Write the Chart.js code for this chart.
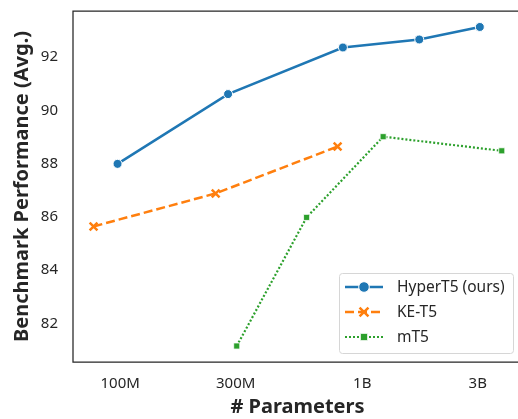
<!DOCTYPE html>
<html>
<head>
<meta charset="utf-8">
<script src="https://cdn.jsdelivr.net/npm/chart.js@4.4.0/dist/chart.umd.min.js"></script>
<style>
  html, body { margin: 0; padding: 0; overflow: hidden; background: #fff; }
  #wrap { width: 530px; height: 419px; }
</style>
</head>
<body>
<div id="wrap"><canvas id="chart" width="530" height="419"></canvas></div>
<script>
// values (x = number of parameters, log axis)
const seriesNames = ["HyperT5 (ours)", "KE-T5", "mT5"];
const hyperParams = [9.75e7, 2.79e8, 8.32e8, 1.72e9, 3.06e9];
const hyperScores = [87.99, 90.61, 92.36, 92.66, 93.13];
const keParams = [7.76e7, 2.48e8, 7.91e8];
const keScores = [85.64, 86.88, 88.64];
const mt5Params = [3.03e8, 5.89e8, 1.22e9, 3.77e9];
const mt5Scores = [81.15, 85.98, 89.01, 88.48];
const xTickValues = [1e8, 3e8, 1e9, 3e9];
const xTickLabels = ["100M", "300M", "1B", "3B"];
const yTickValues = [82, 84, 86, 88, 90, 92];

const toPoints = (xs, ys) => xs.map((x, i) => ({x: x, y: ys[i]}));

// top, left and bottom spines (the right one falls outside the window)
const frame = {
  id: "frame",
  afterDatasetsDraw(chart) {
    const a = chart.chartArea, ctx = chart.ctx;
    ctx.save();
    ctx.strokeStyle = "#262626";
    ctx.lineWidth = 1.25;
    ctx.beginPath();
    ctx.moveTo(chart.width, a.top);
    ctx.lineTo(a.left, a.top);
    ctx.lineTo(a.left, a.bottom);
    ctx.lineTo(chart.width, a.bottom);
    ctx.stroke();
    ctx.restore();
  }
};

// legend drawn like the matplotlib one: line + marker sample
const lineLegend = {
  id: "lineLegend",
  afterDraw(chart) {
    const a = chart.chartArea, ctx = chart.ctx;
    const w = 174, h = 80;
    const x0 = a.right - 9 - w, y0 = a.bottom - 9 - h;
    ctx.save();
    ctx.fillStyle = "rgba(255,255,255,0.85)";
    ctx.strokeStyle = "#d6d6d6";
    ctx.lineWidth = 1;
    ctx.beginPath();
    ctx.roundRect(x0 + 0.5, y0 + 0.5, w, h, 3);
    ctx.fill();
    ctx.stroke();
    ctx.font = "15.5px 'Noto Sans'";
    ctx.textBaseline = "middle";
    chart.data.datasets.forEach((ds, i) => {
      const y = y0 + 14 + i * 25;
      ctx.strokeStyle = ds.borderColor;
      ctx.lineWidth = ds.borderWidth;
      ctx.setLineDash(ds.borderDash || []);
      ctx.beginPath();
      ctx.moveTo(x0 + 6, y);
      ctx.lineTo(x0 + 44, y);
      ctx.stroke();
      ctx.setLineDash([]);
      ctx.fillStyle = ds.pointBackgroundColor;
      ctx.strokeStyle = ds.pointBorderColor;
      ctx.lineWidth = ds.pointBorderWidth;
      Chart.helpers.drawPoint(ctx, {pointStyle: ds.pointStyle, radius: ds.pointRadius + 0.8, rotation: 0, borderWidth: ds.pointBorderWidth}, x0 + 25, y);
      ctx.fillStyle = "#262626";
      ctx.fillText(ds.label, x0 + 58, y + 1);
    });
    ctx.restore();
  }
};

new Chart(document.getElementById("chart"), {
  type: "line",
  data: {
    datasets: [
      {
        label: seriesNames[0],
        data: toPoints(hyperParams, hyperScores),
        borderColor: "#1f77b4", borderWidth: 2.5,
        pointStyle: "circle", pointRadius: 4.5,
        pointBackgroundColor: "#1f77b4", pointBorderColor: "#ffffff", pointBorderWidth: 1
      },
      {
        label: seriesNames[1],
        data: toPoints(keParams, keScores),
        borderColor: "#ff7f0e", borderWidth: 2.5, borderDash: [9, 4],
        pointStyle: "crossRot", pointRadius: 5.5,
        pointBackgroundColor: "#ff7f0e", pointBorderColor: "#ff7f0e", pointBorderWidth: 2.5
      },
      {
        label: seriesNames[2],
        data: toPoints(mt5Params, mt5Scores),
        borderColor: "#2ca02c", borderWidth: 2.2, borderDash: [2, 2],
        pointStyle: "rect", pointRadius: 4.3,
        pointBackgroundColor: "#2ca02c", pointBorderColor: "#ffffff", pointBorderWidth: 0.8
      }
    ]
  },
  options: {
    responsive: false,
    animation: false,
    devicePixelRatio: 1,
    layout: { padding: { top: 11, right: 6, left: 0, bottom: 0 } },
    plugins: { legend: { display: false }, tooltip: { enabled: false } },
    elements: { line: { tension: 0 } },
    scales: {
      x: {
        type: "logarithmic",
        min: Math.pow(10, 7.805),
        max: Math.pow(10, 9.66),
        grid: { display: false, drawTicks: false },
        border: { display: false },
        afterBuildTicks: s => { s.ticks = xTickValues.map(v => ({value: v})); },
        afterFit: s => { s.height = 57; s.paddingLeft = 0; s.paddingRight = 0; },
        ticks: {
          autoSkip: false, maxRotation: 0, padding: 13,
          color: "#262626", font: { family: "'Noto Sans'", size: 15 },
          callback: (v, i) => xTickLabels[i]
        },
        title: {
          display: true, text: "# Parameters", color: "#262626",
          font: { family: "'Noto Sans'", size: 20, weight: "bold" },
          padding: { top: 0, bottom: 0 }
        }
      },
      y: {
        min: 80.55,
        max: 93.73,
        grid: { display: false, drawTicks: false },
        border: { display: false },
        afterBuildTicks: s => { s.ticks = yTickValues.map(v => ({value: v})); },
        afterFit: s => { s.width = 73; s.paddingTop = 0; s.paddingBottom = 0; },
        ticks: {
          padding: 15, color: "#262626", font: { family: "'Noto Sans'", size: 15 }
        },
        title: {
          display: true, text: "Benchmark Performance (Avg.)", color: "#262626",
          font: { family: "'Noto Sans'", size: 20, weight: "bold" },
          padding: { top: 10.5, bottom: 0 }
        }
      }
    }
  },
  plugins: [frame, lineLegend]
});
</script>
</body>
</html>
